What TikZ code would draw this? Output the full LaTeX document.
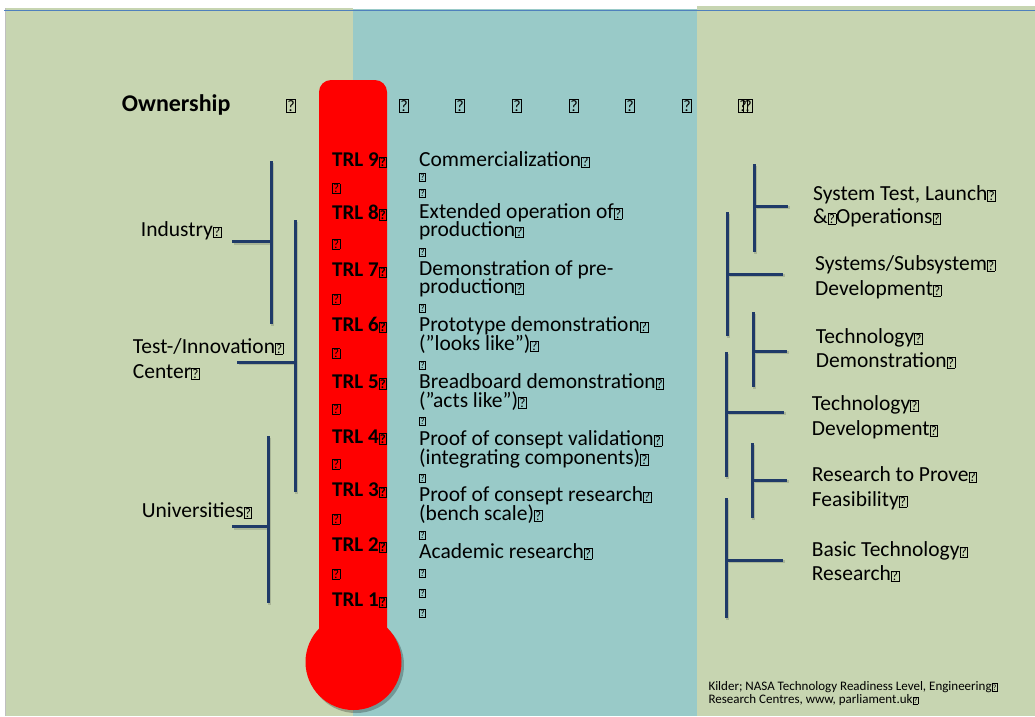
\documentclass[tikz,border=0pt]{standalone}
\usepackage{fontspec}
\setmainfont{Carlito}
\usepackage{graphicx}
\definecolor{panelgreen}{HTML}{C7D5B1}
\definecolor{panelteal}{HTML}{99CAC8}
\definecolor{brk}{HTML}{1F3A68}
\definecolor{topline}{HTML}{4F81BD}
\newcommand\qb{{\fboxsep=0.5pt\fboxrule=0.6pt\fbox{\resizebox{!}{0.42em}{?}}}}
\begin{document}
\begin{tikzpicture}[x=1pt,y=-1pt,
  txt/.style={font=\fontsize{21.5}{18}\selectfont, inner sep=0pt, anchor=base west},
  smallbox/.style={font=\fontsize{15}{15}\selectfont, inner sep=0pt, anchor=base west},
  trl/.style={font=\fontsize{21}{21}\selectfont\bfseries, inner sep=0pt, anchor=base west},
  trlbox/.style={font=\fontsize{20}{20}\selectfont, inner sep=0pt, anchor=base west},
  own/.style={font=\fontsize{24}{24}\selectfont\bfseries, inner sep=0pt, anchor=base west},
  ownbox/.style={font=\fontsize{26}{26}\selectfont, inner sep=0pt, anchor=base},
  cite/.style={font=\fontsize{13}{13}\selectfont, inner sep=0pt, anchor=base west},
  brkline/.style={draw=brk, line width=3pt},
  brkshadow/.style={draw=black, opacity=0.15, line width=3pt}]
\useasboundingbox (0,0) rectangle (1035,716);
\fill[white] (0,0) rectangle (1035,716);
% panels
\fill[panelgreen] (5,8) rectangle (353,716);
\fill[panelteal] (353,9) rectangle (697,716);
\fill[panelgreen] (697,6) rectangle (1035,716);
\draw[black!25, line width=0.8pt] (5,8) -- (5,716);
\draw[topline, line width=1pt] (4,10) -- (1035,10);
% thermometer
\fill[black, opacity=0.25] (356,665) circle (48);
\fill[red, rounded corners=12] (319,650) -- (319,80) -- (387,80) -- (387,650) -- cycle;
\fill[red] (353.5,662) circle (48);
% ownership row
\node[own] (own) at (121.7,111) {Ownership};
\foreach \xx [count=\i] in {291,404,460,517,574,630,687,743}
  \node[ownbox] (ob\i) at (\xx,111) {\qb};
\node[ownbox] (ob9) at (748,111) {\qb};
% TRL labels
\foreach \yy/\n in {166.7/9,219.3/8,276.7/7,331.7/6,388/5,443/4,496.7/3,551.7/2,606.7/1}
  \node[trl] (trl\n) at (332,\yy) {TRL \n\qb};
\foreach \yy [count=\i] in {192.7,248,303,357.7,413,468,523,578}
  \node[trlbox] (tb\i) at (332,\yy) {\qb};
% descriptions
\foreach \yy/\tt [count=\i] in {
  166.7/{Commercialization\qb},
  218.3/{Extended operation of\qb},
  236.7/{production\qb},
  275/{Demonstration of pre-},
  293.3/{production\qb},
  331.7/{Prototype demonstration\qb},
  350.7/{(”looks like”)\qb},
  388.3/{Breadboard demonstration\qb},
  407/{(”acts like”)\qb},
  445/{Proof of consept validation\qb},
  464/{(integrating components)\qb},
  501.7/{Proof of consept research\qb},
  520/{(bench scale)\qb},
  558.3/{Academic research\qb}}
  \node[txt] (d\i) at (419,\yy) {\tt};
\foreach \yy [count=\i] in {180.5,196.7,255,311,368.3,424.3,481,538.3,576.7,596.7,616.7}
  \node[smallbox] (db\i) at (419,\yy) {\qb};
% left labels
\node[txt] (ind) at (140.7,236.7) {Industry\qb};
\node[txt] (tic1) at (132.7,353.3) {Test-/Innovation\qb};
\node[txt] (tic2) at (132.7,378.3) {Center\qb};
\node[txt] (uni) at (141.7,517.3) {Universities\qb};
% left brackets
\begin{scope}[shift={(1.5,1.5)}]
\draw[brkshadow] (271,161) -- (271,324) (232,241.5) -- (271,241.5);
\draw[brkshadow] (295,220) -- (295,492) (237,362) -- (295,362);
\draw[brkshadow] (268,436) -- (268,603) (232,526.5) -- (268,526.5);
\end{scope}
\draw[brkline] (271,161) -- (271,324) (232,241.5) -- (271,241.5);
\draw[brkline] (295,220) -- (295,492) (237,362) -- (295,362);
\draw[brkline] (268,436) -- (268,603) (232,526.5) -- (268,526.5);
% right brackets
\begin{scope}[shift={(1.5,1.5)}]
\draw[brkshadow] (754,164) -- (754,252) (754,206) -- (788,206);
\draw[brkshadow] (727,212) -- (727,336) (727,274) -- (783,274);
\draw[brkshadow] (753,312) -- (753,387) (753,351) -- (787,351);
\draw[brkshadow] (726,352) -- (726,477) (726,412) -- (784,412);
\draw[brkshadow] (752,443) -- (752,518) (752,480) -- (787,480);
\draw[brkshadow] (726,498) -- (726,618) (726,560) -- (783,560);
\end{scope}
\draw[brkline] (754,164) -- (754,252) (754,206) -- (788,206);
\draw[brkline] (727,212) -- (727,336) (727,274) -- (783,274);
\draw[brkline] (753,312) -- (753,387) (753,351) -- (787,351);
\draw[brkline] (726,352) -- (726,477) (726,412) -- (784,412);
\draw[brkline] (752,443) -- (752,518) (752,480) -- (787,480);
\draw[brkline] (726,498) -- (726,618) (726,560) -- (783,560);
% right labels
\node[txt] (r1a) at (813,200) {System Test, Launch\qb};
\node[txt] (r1b) at (813,223.5) {\&\qb Operations\qb};
\node[txt] (r2a) at (815,270) {Systems/Subsystem\qb};
\node[txt] (r2b) at (815,295) {Development\qb};
\node[txt] (r3a) at (815.7,343) {Technology\qb};
\node[txt] (r3b) at (815.7,367) {Demonstration\qb};
\node[txt] (r4a) at (811.7,410) {Technology\qb};
\node[txt] (r4b) at (811.7,435) {Development\qb};
\node[txt] (r5a) at (811.7,481.7) {Research to Prove\qb};
\node[txt] (r5b) at (811.7,506) {Feasibility\qb};
\node[txt] (r6a) at (811.7,556.7) {Basic Technology\qb};
\node[txt] (r6b) at (811.7,580.7) {Research\qb};
% citation
\node[cite] (c1) at (708.3,690) {Kilder; NASA Technology Readiness Level, Engineering\qb};
\node[cite] (c2) at (708.3,703.5) {Research Centres, www, parliament.uk\qb};
\end{tikzpicture}
\end{document}
